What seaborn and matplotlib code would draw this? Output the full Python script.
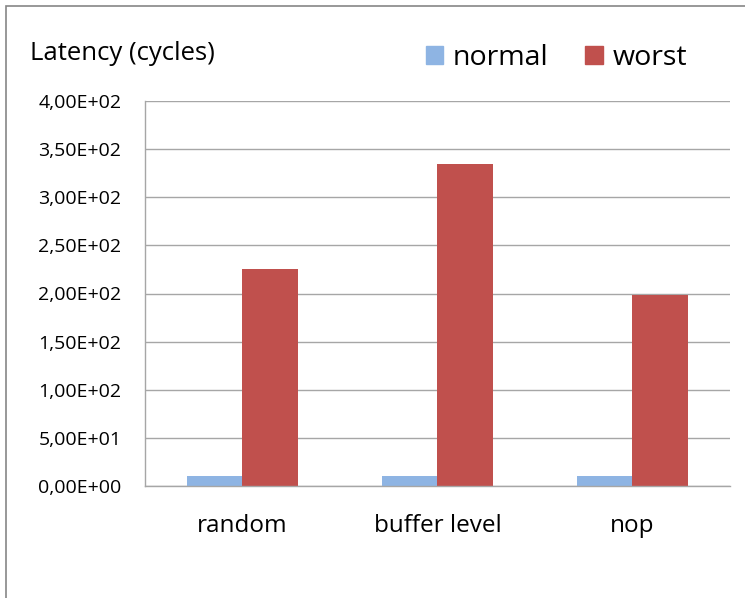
import pandas as pd
import seaborn as sns
import matplotlib.pyplot as plt
import numpy as np
from matplotlib.patches import Rectangle
from matplotlib.ticker import FuncFormatter

categories = ['random', 'buffer level', 'nop']
normal = [10, 10, 10]
worst = [225, 335, 198]
series = ['normal', 'worst']
colors = ['#8EB4E3', '#C0504D']

df = pd.DataFrame({
    'category': categories * 2,
    'series': ['normal'] * 3 + ['worst'] * 3,
    'latency': normal + worst,
})

sns.set_style('white')
plt.rcParams['font.family'] = ['Open Sans', 'DejaVu Sans']
plt.rcParams['text.color'] = 'black'
plt.rcParams['xtick.labelcolor'] = 'black'
plt.rcParams['ytick.labelcolor'] = 'black'

fig = plt.figure(figsize=(7.45, 5.98), dpi=100)
ax = fig.add_axes([145 / 745, 1 - 486 / 598, 585 / 745, 385 / 598])

sns.barplot(data=df, x='category', y='latency', hue='series', palette=colors,
            width=0.57, gap=0, saturation=1, linewidth=0, ax=ax, legend=False)

ax.set_ylim(0, 400)
ax.set_yticks(np.arange(0, 401, 50))
ax.yaxis.set_major_formatter(FuncFormatter(lambda v, p: f'{v:.2E}'.replace('.', ',')))
ax.set_xlim(-0.5, 2.5)
ax.set_xlabel('')
ax.set_ylabel('')
ax.grid(axis='y', color='#A6A6A6', lw=1)
ax.set_axisbelow(True)
for s in ['top', 'right']:
    ax.spines[s].set_visible(False)
for s in ['left', 'bottom']:
    ax.spines[s].set_color('#A6A6A6')
    ax.spines[s].set_linewidth(1)

# category boundary ticks like excel
ax.set_xticks(np.arange(-0.5, 3, 1), minor=True)
ax.tick_params(axis='x', which='major', length=0, labelsize=17.5, pad=20)
ax.tick_params(axis='x', which='minor', length=8, color='#A6A6A6', width=1)
ax.tick_params(axis='y', length=6, color='#A6A6A6', width=1, labelsize=14, pad=11)

fig.text(30 / 745, 1 - 53 / 598, 'Latency (cycles)', fontsize=18.5, va='center', ha='left')

handles = [Rectangle((0, 0), 1, 1, color=c) for c in colors]
fig.legend(handles, series, loc='center left', bbox_to_anchor=(400 / 745, 1 - 58 / 598),
           ncol=2, frameon=False, fontsize=20.5, handlelength=0.6, handleheight=0.6,
           handletextpad=0.35, columnspacing=1.3)

# outer chart frame
fig.patches.append(Rectangle((6 / 745, -0.1), 1.2, 1.1 - 6 / 598, transform=fig.transFigure,
                             fill=False, edgecolor='#868686', lw=1.2))

fig.savefig('out.png', dpi=100)
